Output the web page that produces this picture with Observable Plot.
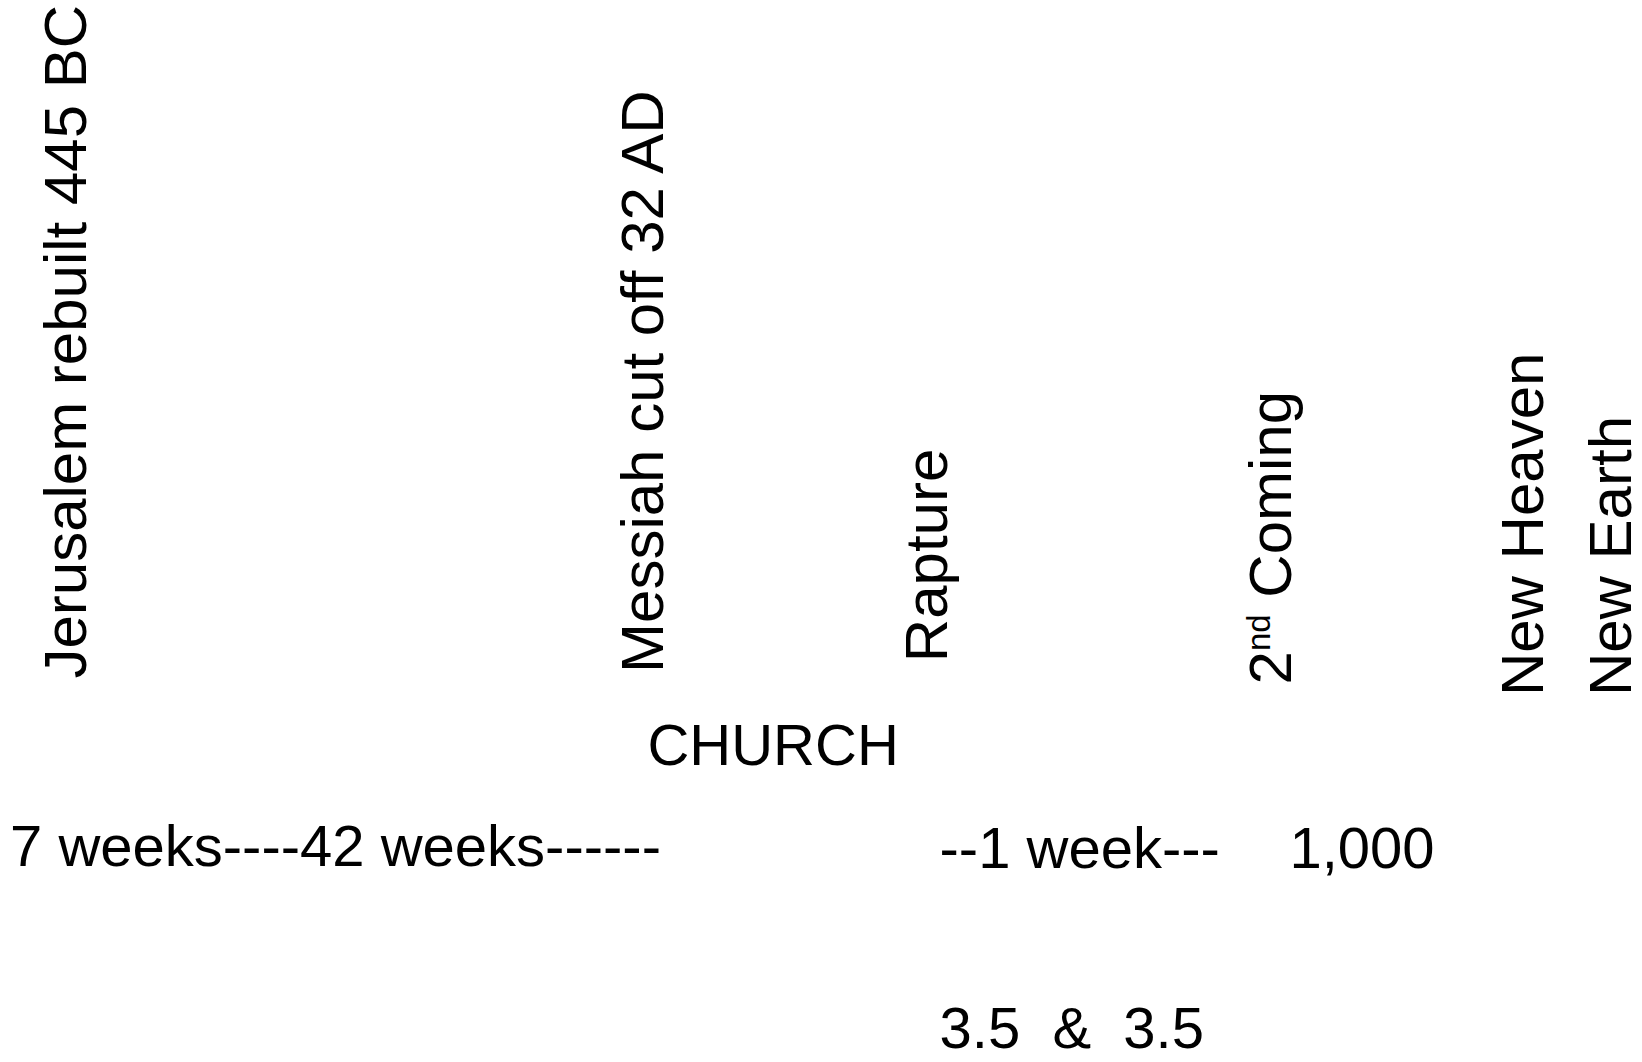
<!DOCTYPE html>
<html>
<head>
<meta charset="utf-8">
<script src="https://cdn.jsdelivr.net/npm/d3@7"></script>
<script src="https://cdn.jsdelivr.net/npm/@observablehq/plot@0.6"></script>
<style>
  html, body { margin: 0; padding: 0; background: #ffffff; }
  #chart svg text { white-space: pre; }
</style>
</head>
<body>
<div id="chart"></div>
<script>
// Events (vertical labels): timeline position (0–100) and level (0 top – 100 bottom) where each label starts
const eventLabels   = ["Jerusalem rebuilt 445 BC", "Messiah cut off 32 AD", "Rapture", "2nd Coming", "New Heaven", "New Earth"];
const eventTimeline = [5.18, 40.32, 57.67, 78.62, 93.97, 99.33];
const eventLevel    = [63.85, 63.32, 62.30, 64.40, 65.50, 65.50];

// Periods (horizontal labels)
const periodLabels   = ["CHURCH", "7 weeks----42 weeks------", "--1 week---", "1,000", "3.5  &  3.5"];
const periodTimeline = [39.40, 0.58, 57.19, 78.50, 57.19];
const periodLevel    = [72.03, 81.54, 81.64, 81.64, 98.68];

const events  = eventLabels.map((label, i) => ({label, t: eventTimeline[i], level: eventLevel[i]}));
const periods = periodLabels.map((label, i) => ({label, t: periodTimeline[i], level: periodLevel[i]}));

const FONT = "'Liberation Sans', Arial, Helvetica, sans-serif";

const chart = Plot.plot({
  width: 1642,
  height: 1062,
  margin: 0,
  x: {domain: [0, 100], axis: null},
  y: {domain: [0, 100], range: [0, 1062], axis: null},
  style: {background: "#ffffff", fontFamily: FONT, color: "#000000"},
  marks: [
    Plot.text(events, {
      x: "t", y: "level", text: "label",
      rotate: -90, textAnchor: "start", lineAnchor: "bottom",
      fontSize: 60, fontFamily: FONT, fill: "#000000"
    }),
    Plot.text(periods, {
      x: "t", y: "level", text: "label",
      textAnchor: "start", lineAnchor: "bottom",
      fontSize: 58, fontFamily: FONT, fill: "#000000"
    })
  ]
});

// Render the ordinal suffix of "2nd" as a superscript
const NS = "http://www.w3.org/2000/svg";
chart.querySelectorAll("text").forEach(t => {
  const s = t.textContent;
  const m = s.match(/^(\d+)(st|nd|rd|th)(\s.*)$/);
  if (m) {
    t.textContent = "";
    const a = document.createElementNS(NS, "tspan");
    a.textContent = m[1];
    const b = document.createElementNS(NS, "tspan");
    b.textContent = m[2];
    b.setAttribute("font-size", "33");
    b.setAttribute("dy", "-21");
    const c = document.createElementNS(NS, "tspan");
    c.textContent = m[3];
    c.setAttribute("dy", "21");
    t.append(a, b, c);
  }
});

document.getElementById("chart").append(chart);
</script>
</body>
</html>
